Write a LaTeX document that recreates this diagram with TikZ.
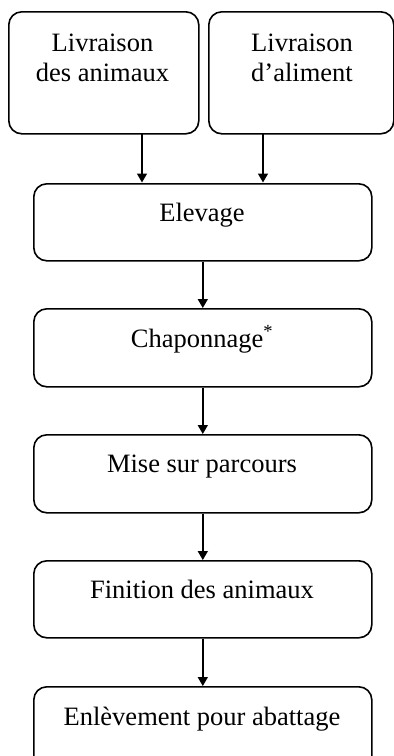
\documentclass[tikz,border=0pt]{standalone}
\usepackage{fontspec}
\setmainfont{Liberation Serif}
\usetikzlibrary{arrows.meta}
\begin{document}
\begin{tikzpicture}[x=1pt,y=-1pt,
  box/.style={draw=black,line width=1.6pt,rounded corners=13pt,inner sep=0pt,anchor=north west},
  lbl/.style={anchor=base,inner sep=0pt,align=center,font=\fontsize{26.5}{30}\selectfont},
  arr/.style={line width=1.6pt,-{Triangle[width=10pt,length=9pt]}}]
\useasboundingbox (0,0) rectangle (394,756);
\clip (0,0) rectangle (394,756);
\node[box,minimum width=190pt,minimum height=122pt] (liv1) at (8,11) {};
\node[box,minimum width=185pt,minimum height=122pt] (liv2) at (208,11) {};
\node[box,minimum width=338pt,minimum height=77pt] (elev) at (33,183) {};
\node[box,minimum width=338pt,minimum height=78pt] (chap) at (33,308) {};
\node[box,minimum width=338pt,minimum height=78pt] (mise) at (33,434) {};
\node[box,minimum width=338pt,minimum height=77pt] (fini) at (33,560) {};
\node[box,minimum width=338pt,minimum height=90pt] (enl) at (33,686) {};
\node[lbl] (t1) at (102.5,81) {Livraison\\des animaux};
\node[lbl] (t2) at (302,81) {Livraison\\d’aliment};
\node[lbl] (t3) at (202,221) {Elevage};
\node[lbl] (t4) at (202,347) {Chaponnage\textsuperscript{*}};
\node[lbl] (t5) at (202,472) {Mise sur parcours};
\node[lbl] (t6) at (202,598) {Finition des animaux};
\node[lbl] (t7) at (202,725) {Enlèvement pour abattage};
\coordinate (a1) at (142,133);
\coordinate (b1) at (142,182.5);
\coordinate (a2) at (263,133);
\coordinate (b2) at (263,182.5);
\draw[arr] (a1) -- (b1);
\draw[arr] (a2) -- (b2);
\draw[arr] (elev.south) -- (chap.north);
\draw[arr] (chap.south) -- (mise.north);
\draw[arr] (mise.south) -- (fini.north);
\draw[arr] (fini.south) -- (enl.north);
\end{tikzpicture}
\end{document}
